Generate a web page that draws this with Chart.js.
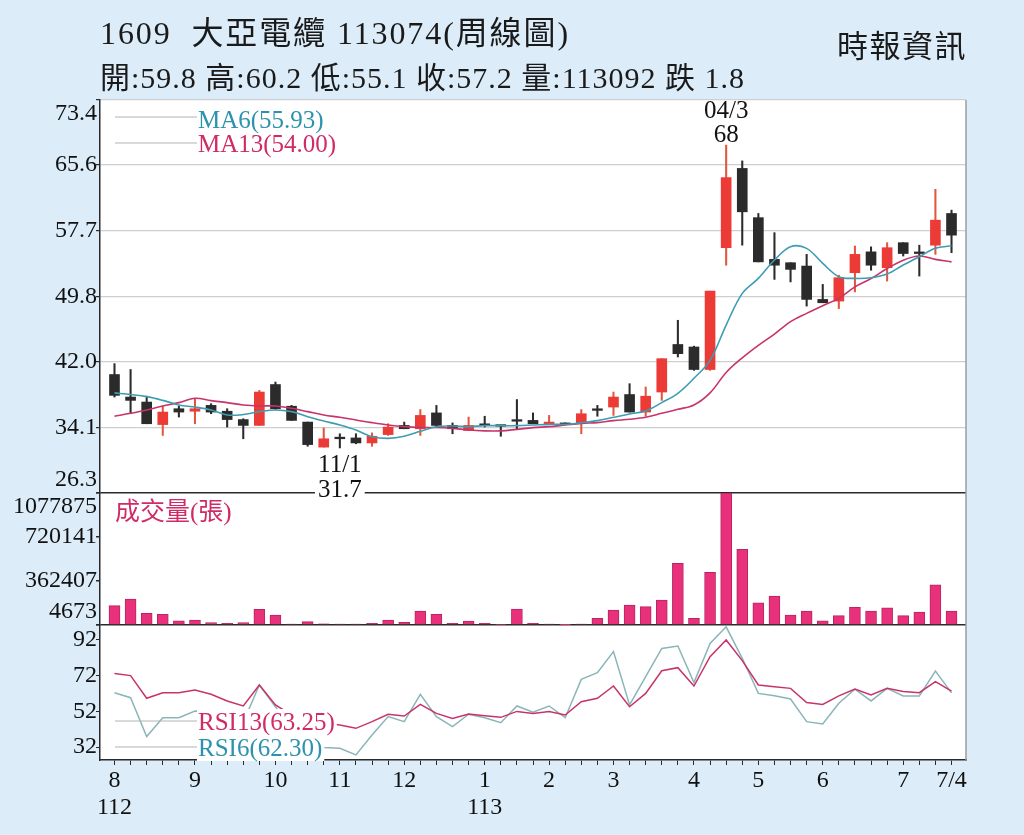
<!DOCTYPE html>
<html lang="zh-Hant">
<head>
<meta charset="utf-8">
<title>1609 大亞電纜 周線圖</title>
<script src="https://cdn.jsdelivr.net/npm/chart.js@4.4.1/dist/chart.umd.min.js"></script>
<style>
  html, body { margin: 0; padding: 0; background: #dcedf9; }
  #page { position: relative; width: 1024px; height: 835px; overflow: hidden; }
  #kChart { position: absolute; left: 0; top: 0; }
  .head { position: absolute; white-space: pre; color: #1a1a1a; line-height: 1;
          font-family: "Liberation Serif", "Noto Sans CJK TC", serif; }
  #title  { left: 100px; top: 17px; font-size: 32px; }
  #quote  { left: 100px; top: 63px; font-size: 30px; }
  #source { left: 837px; top: 31px; font-size: 31px; }
</style>
</head>
<body>
<div id="page">
  <canvas id="kChart" width="1024" height="835"></canvas>
  <div class="head" id="title">1609  大亞電纜 113074(周線圖)</div>
  <div class="head" id="quote"></div>
  <div class="head" id="source">時報資訊</div>
</div>

<script>
/* ---------- data ---------- */

// x axis: week slots, month labels and ROC year labels
const monthIdx  = [0, 5, 10, 14, 18, 23, 27, 31, 36, 40, 44, 49, 52];
const monthText = ['8', '9', '10', '11', '12', '1', '2', '3', '4', '5', '6', '7', '7/4'];
const yearIdx   = [0, 23];
const yearText  = ['112', '113'];

// weekly candles
const openP  = [40.5, 37.8, 37.2, 34.5, 36.4, 36.1, 36.8, 36.1, 35.1, 34.4,
                39.3, 36.7, 34.8, 31.8, 32.9, 32.9, 32.3, 33.3, 34.4, 34.0,
                35.9, 34.4, 33.8, 34.5, 34.4, 34.95, 35.0, 34.6, 34.7, 34.7,
                36.3, 36.6, 38.1, 36.0, 38.4, 44.1, 43.8, 41.1, 55.7, 65.2,
                59.3, 54.3, 53.9, 53.5, 49.5, 49.3, 52.7, 55.2, 53.3, 56.3,
                55.1, 56.0, 59.8];
const highP  = [41.8, 41.1, 37.9, 36.7, 36.7, 37.6, 37.0, 36.4, 35.2, 38.6,
                39.6, 36.8, 34.8, 34.1, 33.4, 33.4, 33.5, 34.6, 34.8, 36.3,
                36.8, 34.7, 35.4, 35.5, 34.4, 37.5, 35.9, 35.6, 34.7, 36.3,
                36.8, 38.4, 39.4, 39.0, 42.4, 47.0, 43.9, 50.5, 68, 66.1,
                59.8, 57.5, 53.9, 54.9, 51.3, 52.4, 55.9, 55.8, 56.3, 56.3,
                56.0, 62.7, 60.2];
const lowP   = [37.8, 35.8, 34.6, 33.2, 35.4, 34.6, 35.8, 34.2, 32.8, 34.4,
                36.3, 35.0, 31.9, 31.8, 31.7, 32.2, 31.9, 33.2, 34.0, 33.2,
                34.2, 33.4, 33.8, 34.2, 33.1, 34.0, 34.6, 34.6, 34.5, 33.4,
                35.5, 35.6, 36.0, 35.5, 37.4, 42.6, 41.0, 41.0, 53.6, 56.0,
                54.0, 51.9, 51.6, 48.7, 49.1, 48.4, 50.4, 53.0, 51.7, 54.7,
                52.3, 54.9, 55.1];
const closeP = [38.0, 37.4, 34.6, 36.0, 36.0, 36.4, 36.0, 35.1, 34.4, 38.4,
                36.4, 35.0, 32.1, 32.8, 32.8, 32.3, 33.1, 34.2, 34.0, 35.6,
                34.4, 34.0, 34.4, 34.4, 34.3, 34.9, 34.6, 34.8, 34.5, 35.8,
                36.2, 37.8, 36.0, 37.9, 42.4, 43.0, 41.1, 50.5, 64.1, 60.0,
                54.0, 53.6, 53.1, 49.5, 49.1, 52.1, 54.9, 53.6, 55.7, 55.0,
                55.0, 59.0, 57.2];

// moving averages
const ma6  = [38.3, 38.1, 37.85, 37.4, 36.85, 36.6, 36.25, 35.65, 35.7, 36.05,
              36.25, 36.05, 35.45, 34.93, 34.45, 33.85, 33.05, 32.85, 33.1, 33.7,
              34.25, 34.33, 34.25, 34.37, 34.37, 34.37, 34.45, 34.53, 34.53, 34.73,
              34.97, 35.37, 35.77, 36.13, 37.13, 38.25, 40.05, 42.2, 46.43, 50.22,
              52.02, 54.22, 55.82, 55.62, 53.82, 52.22, 52.02, 52.1, 52.54, 53.62,
              54.62, 55.62, 55.93];
const ma13 = [35.5, 35.85, 36.25, 36.73, 37.13, 37.65, 37.37, 37.13, 36.85, 36.73,
              36.73, 36.45, 36.05, 35.65, 35.37, 35.05, 34.73, 34.45, 34.25, 34.15,
              34.15, 34.05, 33.85, 33.75, 33.75, 33.93, 34.13, 34.25, 34.45, 34.65,
              34.73, 34.97, 35.13, 35.37, 35.85, 36.33, 36.85, 38.3, 40.75, 42.5,
              44.0, 45.35, 46.83, 47.83, 48.75, 49.62, 51.0, 52.0, 53.2, 54.2,
              54.7, 54.3, 54.0];

// volume (張)
const volume = [158000, 212000, 96000, 87000, 35000, 41000, 19000, 14000, 19000, 128000,
                82000, 8000, 27000, 10000, 7000, 7000, 14000, 41000, 22000, 114000,
                87000, 14000, 33000, 14000, 4000, 131000, 14000, 8000, 1000, 7000,
                54000, 122000, 163000, 150000, 204000, 504000, 54000, 430000, 1077875, 618000,
                182000, 237000, 82000, 114000, 35000, 76000, 144000, 114000, 141000, 76000,
                106000, 327000, 113092];

// RSI
const rsi6  = [62.4, 59.6, 38.0, 48.5, 48.5, 52.2, 52.0, 49.0, 46.0, 66.7,
               54.6, 42.0, 33.0, 32.0, 31.5, 27.8, 38.9, 49.1, 46.3, 61.5,
               49.1, 43.5, 50.4, 48.5, 45.7, 55.0, 51.5, 55.0, 48.5, 69.8,
               73.5, 85.2, 55.6, 71.3, 87.0, 88.3, 68.0, 89.8, 99.0, 81.5,
               62.0, 60.7, 58.9, 46.3, 45.0, 56.5, 64.3, 57.8, 64.8, 60.6,
               60.6, 74.4, 62.30];
const rsi13 = [73.1, 71.9, 59.3, 62.4, 62.4, 63.9, 61.5, 57.8, 55.0, 66.7,
               55.6, 50.0, 47.0, 45.5, 44.4, 42.6, 46.3, 50.4, 49.4, 55.9,
               50.9, 48.1, 50.6, 49.6, 48.7, 52.0, 50.9, 51.9, 50.0, 57.4,
               59.3, 66.1, 54.6, 62.0, 74.6, 76.3, 66.1, 82.4, 91.7, 80.2,
               66.7, 65.7, 64.8, 56.9, 55.9, 60.6, 64.4, 61.1, 64.8, 63.0,
               62.4, 68.5, 63.25];

// axis tick labels
const priceTicks = [26.3, 34.1, 42.0, 49.8, 57.7, 65.6, 73.4];
const volTicks   = [4673, 362407, 720141, 1077875];
const rsiTicks   = [32, 52, 72, 92];

// dates printed beside the extreme candles
const highDate = '04/3';
const lowDate  = '11/1';

/* ---------- look ---------- */

const FONT = '"Liberation Serif", "Noto Sans CJK TC", serif';
const C = {
    red: '#ec3b37', redWick: '#e2573c', black: '#2b2b2b',
    vol: '#e8307b', volEdge: '#b92462',
    ma6: '#3c9db2', ma13: '#c8336a',
    rsi6: '#8ab5b9', rsi13: '#c8336a',
    teal: '#2d92ad', pink: '#d02b66',
    grid: '#cfcfcf', axis: '#2a2a2a', legendLine: '#b4b4b4'
};

const weeks = openP.map((_, i) => i);
const isUp = weeks.map(i => closeP[i] >= openP[i]);
const pts = arr => weeks.map(i => ({ x: i, y: arr[i] }));

// header text from the last week
const last = weeks.length - 1;
document.getElementById('quote').textContent =
    `開:${openP[last]} 高:${highP[last]} 低:${lowP[last]} 收:${closeP[last]} ` +
    `量:${volume[last]} 跌 ${(closeP[last - 1] - closeP[last]).toFixed(1)}`;

// stretch header lines to the widths they take in the print
function fitWidth(id, target) {
    const el = document.getElementById(id);
    const w = el.getBoundingClientRect().width;
    el.style.letterSpacing = ((target - w) / el.textContent.length) + 'px';
}
fitWidth('title', 470);
fitWidth('quote', 645);
fitWidth('source', 130);

/* ---------- plugins ---------- */

// white plot area, right frame and y tick labels (kept inside their panel)
const panelPlugin = {
    id: 'panels',
    beforeDraw(chart) {
        const { ctx, chartArea: a } = chart;
        ctx.save();
        ctx.fillStyle = '#fff';
        ctx.fillRect(a.left, a.top, a.right - a.left, a.bottom - a.top);
        ctx.restore();
    },
    afterDraw(chart) {
        const { ctx, chartArea: a } = chart;
        ctx.save();
        ctx.strokeStyle = '#9c9c9c';
        ctx.lineWidth = 1.5;
        ctx.beginPath();
        ctx.moveTo(a.right, a.top);
        ctx.lineTo(a.right, a.bottom);
        ctx.stroke();

        ctx.font = `24px ${FONT}`;
        ctx.fillStyle = '#111';
        ctx.textAlign = 'right';
        ctx.textBaseline = 'middle';
        const axes = [
            ['yPrice', priceTicks, v => v.toFixed(1)],
            ['yVol', volTicks, v => String(v)],
            ['yRsi', rsiTicks, v => String(v)]
        ];
        axes.forEach(([id, vals, fmt]) => {
            const s = chart.scales[id];
            vals.forEach(v => {
                const y = Math.min(Math.max(s.getPixelForValue(v), s.top + 14), s.bottom - 13);
                ctx.fillText(fmt(v), s.right - 3, y);
            });
        });
        ctx.restore();
    }
};

// legends, panel caption and the high / low notes
const notesPlugin = {
    id: 'notes',
    afterDatasetsDraw(chart) {
        const { ctx, chartArea: a } = chart;
        const xs = chart.scales.x, yp = chart.scales.yPrice;
        const yv = chart.scales.yVol, yr = chart.scales.yRsi;
        const lx0 = a.left + 15, lx1 = a.left + 97, tx = a.left + 98;

        function legendRow(lineY, baseY, text, color, whiteBack) {
            ctx.strokeStyle = C.legendLine;
            ctx.lineWidth = 1.2;
            ctx.beginPath();
            ctx.moveTo(lx0, lineY);
            ctx.lineTo(lx1, lineY);
            ctx.stroke();
            if (whiteBack) {
                const w = ctx.measureText(text).width;
                ctx.fillStyle = '#fff';
                ctx.fillRect(tx - 1, baseY - 21, w + 3, 26);
            }
            ctx.fillStyle = color;
            ctx.fillText(text, tx, baseY);
        }

        ctx.save();
        ctx.font = `25px ${FONT}`;
        ctx.textAlign = 'left';
        ctx.textBaseline = 'alphabetic';
        legendRow(yp.top + 17, yp.top + 28, `MA6(${ma6[last].toFixed(2)})`, C.teal, false);
        legendRow(yp.top + 43, yp.top + 52, `MA13(${ma13[last].toFixed(2)})`, C.pink, false);
        legendRow(yr.top + 96, yr.top + 105, `RSI13(${rsi13[last].toFixed(2)})`, C.pink, true);
        legendRow(yr.top + 122, yr.top + 131, `RSI6(${rsi6[last].toFixed(2)})`, C.teal, true);

        ctx.fillStyle = C.pink;
        ctx.fillText('成交量(張)', a.left + 15, yv.top + 27);

        // highest high and lowest low
        ctx.textAlign = 'center';
        ctx.fillStyle = '#111';
        const hi = highP.indexOf(Math.max(...highP));
        const hx = xs.getPixelForValue(hi), hy = yp.getPixelForValue(highP[hi]);
        ctx.fillText(String(highP[hi]), hx, hy - 3);
        ctx.fillText(highDate, hx, hy - 27);

        const lo = lowP.indexOf(Math.min(...lowP));
        const lx = xs.getPixelForValue(lo), ly = yp.getPixelForValue(lowP[lo]);
        ctx.fillText(lowDate, lx, ly + 24);
        const lowText = String(lowP[lo]);
        const lw = ctx.measureText(lowText).width;
        ctx.fillStyle = '#fff';
        ctx.fillRect(lx - lw / 2 - 3, ly + 30, lw + 6, 22);
        ctx.fillStyle = '#111';
        ctx.fillText(lowText, lx, ly + 49);
        ctx.restore();
    }
};

/* ---------- chart ---------- */

const tickFont = { family: FONT, size: 24, lineHeight: 1.12 };

new Chart(document.getElementById('kChart'), {
    type: 'bar',
    data: {
        datasets: [
            { type: 'line', label: 'MA6', yAxisID: 'yPrice', data: pts(ma6),
              borderColor: C.ma6, borderWidth: 1.6, pointRadius: 0, tension: 0.35, order: 0 },
            { type: 'line', label: 'MA13', yAxisID: 'yPrice', data: pts(ma13),
              borderColor: C.ma13, borderWidth: 1.6, pointRadius: 0, tension: 0.35, order: 0 },
            { type: 'bar', label: 'body', yAxisID: 'yPrice',
              data: weeks.map(i => ({ x: i, y: [openP[i], closeP[i]] })),
              backgroundColor: weeks.map(i => isUp[i] ? C.red : C.black),
              barThickness: 10, minBarLength: 1.6, grouped: false, order: 1 },
            { type: 'bar', label: 'wick', yAxisID: 'yPrice',
              data: weeks.map(i => ({ x: i, y: [lowP[i], highP[i]] })),
              backgroundColor: weeks.map(i => isUp[i] ? C.redWick : C.black),
              barThickness: 1.4, grouped: false, order: 2 },
            { type: 'bar', label: '成交量', yAxisID: 'yVol', data: pts(volume),
              backgroundColor: C.vol, borderColor: C.volEdge, borderWidth: 1,
              barThickness: 11, grouped: false, order: 1 },
            { type: 'line', label: 'RSI6', yAxisID: 'yRsi', data: pts(rsi6),
              borderColor: C.rsi6, borderWidth: 1.5, pointRadius: 0, tension: 0, order: 1 },
            { type: 'line', label: 'RSI13', yAxisID: 'yRsi', data: pts(rsi13),
              borderColor: C.rsi13, borderWidth: 1.5, pointRadius: 0, tension: 0, order: 0 }
        ]
    },
    options: {
        responsive: false,
        animation: false,
        layout: { padding: { left: 0, right: 58, top: 100, bottom: 0 } },
        plugins: { legend: { display: false }, tooltip: { enabled: false } },
        scales: {
            x: {
                type: 'linear', min: -0.9, max: 52.9, offset: false,
                afterBuildTicks: s => { s.ticks = weeks.map(v => ({ value: v })); },
                afterFit: s => { s.height = 75; },
                ticks: {
                    autoSkip: false, maxRotation: 0, padding: 2, color: '#111', font: tickFont,
                    callback: v => {
                        const m = monthIdx.indexOf(v);
                        if (m < 0) return '';
                        const y = yearIdx.indexOf(v);
                        return y < 0 ? monthText[m] : [monthText[m], yearText[y]];
                    }
                },
                grid: { drawOnChartArea: false, offset: false, tickLength: 5, color: C.axis },
                border: { color: C.axis, width: 1.5 }
            },
            yRsi: {
                type: 'linear', position: 'left', stack: 'panels', stackWeight: 135, weight: 1,
                min: 25, max: 100,
                afterBuildTicks: s => { s.ticks = rsiTicks.map(v => ({ value: v })); },
                afterFit: s => { s.width = 100; },
                ticks: { display: false },
                grid: { drawOnChartArea: false, tickLength: 4, color: C.axis },
                border: { color: C.axis, width: 1.5 }
            },
            yVol: {
                type: 'linear', position: 'left', stack: 'panels', stackWeight: 132, weight: 2,
                min: 0, max: volTicks[volTicks.length - 1],
                afterBuildTicks: s => { s.ticks = [0].concat(volTicks).map(v => ({ value: v })); },
                afterFit: s => { s.width = 100; },
                ticks: { display: false },
                grid: {
                    color: c => c.tick.value === 0 ? C.axis : 'rgba(0,0,0,0)',
                    lineWidth: 1.5, tickLength: 4, tickColor: C.axis
                },
                border: { color: C.axis, width: 1.5 }
            },
            yPrice: {
                type: 'linear', position: 'left', stack: 'panels', stackWeight: 393, weight: 3,
                min: priceTicks[0], max: priceTicks[priceTicks.length - 1],
                afterBuildTicks: s => { s.ticks = priceTicks.map(v => ({ value: v })); },
                afterFit: s => { s.width = 100; },
                ticks: { display: false },
                grid: {
                    color: c => c.tick.value === priceTicks[0] ? C.axis : C.grid,
                    lineWidth: c => c.tick.value === priceTicks[0] ? 1.5 : 1.2,
                    tickLength: 4, tickColor: C.axis
                },
                border: { color: C.axis, width: 1.5 }
            }
        }
    },
    plugins: [panelPlugin, notesPlugin]
});
</script>
</body>
</html>
